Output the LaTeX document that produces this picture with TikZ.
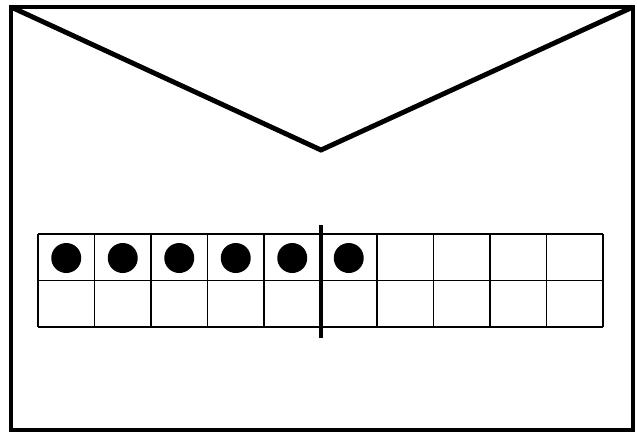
\documentclass[tikz,border=0pt]{standalone}
\usepackage{tikz}
\usetikzlibrary{positioning, calc}

\begin{document}
\begin{tikzpicture}[
    x=0.02cm, y=-0.02cm,
    envelope/.style={draw=black, line width=2.8pt, line join=miter},
    framegrid/.style={draw=black, line width=1.1pt},
    divider/.style={draw=black, line width=2.4pt},
    counter/.style={circle, fill=black, minimum size=0.6cm, inner sep=0pt}
]

% CANVAS
\useasboundingbox (0,0) rectangle (637,434);

% ENVELOPE
\coordinate (topleft) at (11,7);
\coordinate (topright) at (633,7);
\coordinate (botright) at (633,430);
\coordinate (botleft) at (11,430);
\coordinate (flaptip) at (321,150);
\draw[envelope] (topleft) -- (topright) -- (botright) -- (botleft) -- cycle;
\draw[envelope] (topleft) -- (flaptip) -- (topright);

% TEN FRAME
\coordinate (frameNW) at (38,234);
\coordinate (frameSE) at (603,327);
\foreach \c in {0,...,10} {
    \draw[framegrid] (38+56.5*\c,234) -- (38+56.5*\c,327);
}
\foreach \r in {234,280.5,327} {
    \draw[framegrid] (frameNW |- 0,\r) -- (frameSE |- 0,\r);
}

% COUNTERS
\foreach \c in {1,...,6} {
    \node[counter] (dot\c) at (38+56.5*\c-28.25,258) {};
}

% FIVE LINE
\coordinate (divtop) at (321,225);
\coordinate (divbot) at (321,338);
\draw[divider] (divtop) -- (divbot);

\end{tikzpicture}
\end{document}
